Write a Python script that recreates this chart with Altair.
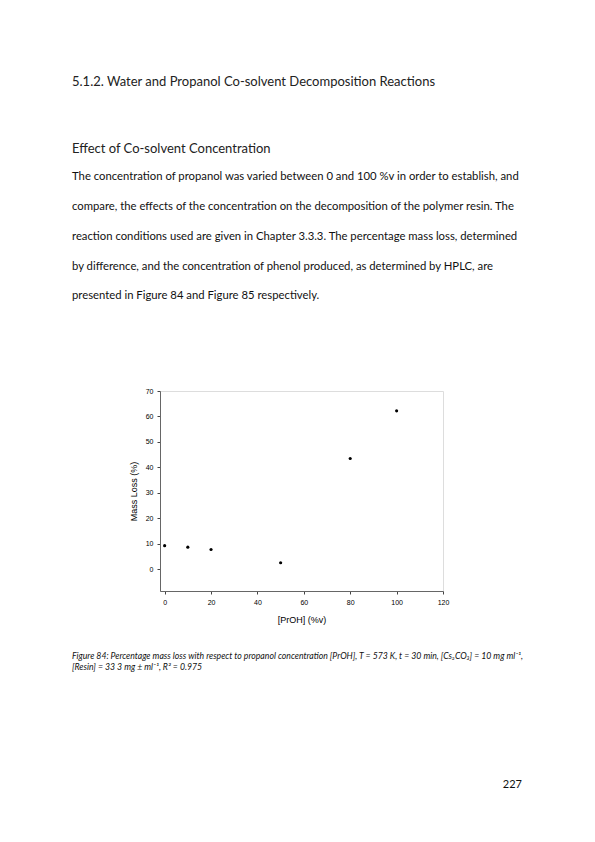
import altair as alt
import pandas as pd

# ---- data ----
proh = [0, 10, 20, 50, 80, 100]
mass_loss = [9.3, 8.7, 7.8, 2.6, 43.5, 62.2]
x_ticks = [0, 20, 40, 60, 80, 100, 120]
y_ticks = [0, 10, 20, 30, 40, 50, 60, 70]

heading = "5.1.2. Water and Propanol Co-solvent Decomposition Reactions"
subheading = "Effect of Co-solvent Concentration"
body_lines = [
    "The concentration of propanol was varied between 0 and 100 %v in order to establish, and",
    "compare, the effects of the concentration on the decomposition of the polymer resin. The",
    "reaction conditions used are given in Chapter 3.3.3. The percentage mass loss, determined",
    "by difference, and the concentration of phenol produced, as determined by HPLC, are",
    "presented in Figure 84 and Figure 85 respectively.",
]
caption_lines = [
    "Figure 84: Percentage mass loss with respect to propanol concentration [PrOH], T = 573 K, t = 30 min, [Cs\u2082CO\u2083] = 10 mg ml\u207b\u00b9,",
    "[Resin] = 33 3 mg \u00b1 ml\u207b\u00b9, R\u00b2 = 0.975",
]
page_number = "227"

df = pd.DataFrame({"proh": proh, "loss": mass_loss})

AXFONT = "Liberation Sans"
TXTFONT = "Lato"

points = alt.Chart(df).mark_circle(size=10, color="black", opacity=1).encode(
    x=alt.X("proh:Q", scale=alt.Scale(domain=[-2, 120], nice=False),
            axis=alt.Axis(values=x_ticks, title="[PrOH] (%v)", grid=False,
                          tickSize=3, labelPadding=4, titlePadding=10,
                          domainColor="#666", tickColor="#444",
                          labelFont=AXFONT, labelFontSize=7, labelColor="black",
                          titleFont=AXFONT, titleFontSize=9, titleFontWeight="normal",
                          titleColor="black", labelFlush=False)),
    y=alt.Y("loss:Q", scale=alt.Scale(domain=[-8.5, 70], nice=False),
            axis=alt.Axis(values=y_ticks, title="Mass Loss (%)", grid=False,
                          tickSize=3, labelPadding=4, titlePadding=7,
                          domainColor="#666", tickColor="#444",
                          labelFont=AXFONT, labelFontSize=7, labelColor="black",
                          titleFont=AXFONT, titleFontSize=9, titleFontWeight="normal",
                          titleColor="black", labelFlush=False)),
)


def text_layer(txt, x, y, size, align="left", italic=False, weight="normal", color="#111"):
    return alt.Chart(pd.DataFrame({"t": [txt]})).mark_text(
        align=align, baseline="middle", font=TXTFONT, fontSize=size,
        fontStyle="italic" if italic else "normal", fontWeight=weight, color=color,
    ).encode(text="t:N", x=alt.value(x), y=alt.value(y))


layers = [points]
layers.append(text_layer(heading, -88, -309, 13.0, color="#222"))
layers.append(text_layer(subheading, -88, -242, 13.0, color="#222"))
body_y = [-214, -184, -154.5, -124.5, -95]
for line, yy in zip(body_lines, body_y):
    layers.append(text_layer(line, -88, yy, 11.3))
cap_y = [265, 276]
for line, yy in zip(caption_lines, cap_y):
    layers.append(text_layer(line, -88, yy, 8.7, italic=True))
layers.append(text_layer(page_number, 362, 394, 11, align="right"))

chart = alt.layer(*layers).properties(
    width=283, height=200,
    autosize=alt.AutoSizeParams(type="none"),
    padding={"left": 152, "top": 383, "right": 144, "bottom": 220},
).configure_view(stroke="#666", strokeWidth=1).configure(background="white")

chart.save("out.html", embed_options={"renderer": "svg", "actions": False})
